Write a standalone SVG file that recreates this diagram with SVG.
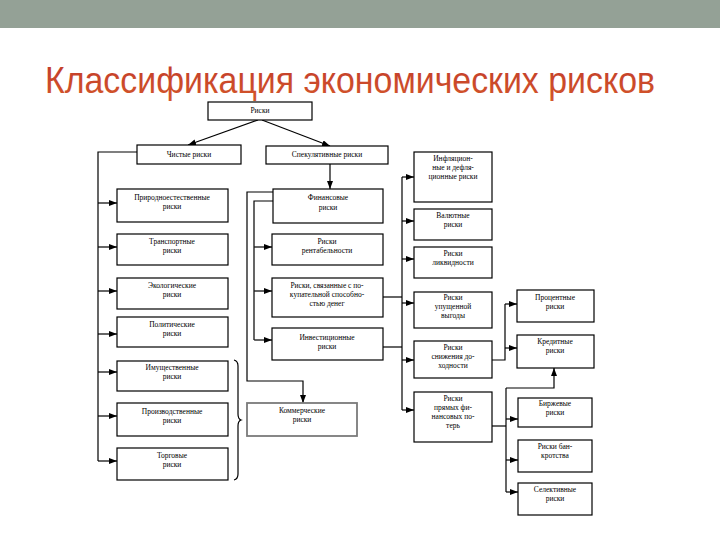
<svg xmlns="http://www.w3.org/2000/svg" width="720" height="540" viewBox="0 0 720 540">
<defs>
<linearGradient id="tg" x1="0" y1="0" x2="0" y2="1">
<stop offset="0" stop-color="#c0392b"/>
<stop offset="1" stop-color="#d4572a"/>
</linearGradient>
<marker id="ah" markerUnits="userSpaceOnUse" markerWidth="8" markerHeight="6" refX="8" refY="3" orient="auto">
<path d="M0,0 L8,3 L0,6 z" fill="#000"/>
</marker>
<style>
.bx{fill:#fff;stroke:#000;stroke-width:1.2}
.cm{fill:#fff;stroke:#7a7a7a;stroke-width:1.8}
.t{font-family:"Liberation Serif","DejaVu Serif",serif;font-size:7.5px;fill:#000;text-anchor:middle}
.ln{fill:none;stroke:#000;stroke-width:1.2}
.ar{fill:none;stroke:#000;stroke-width:1.2;marker-end:url(#ah)}
</style>
</defs>
<rect x="0" y="0" width="720" height="540" fill="#fff"/>
<rect x="0" y="0" width="720" height="28" fill="#94a196"/>
<text x="45" y="93" font-family="Liberation Sans, Arial, sans-serif" font-size="36" fill="url(#tg)" textLength="610" lengthAdjust="spacingAndGlyphs">Классификация экономических рисков</text>

<g id="connectors">
<line class="ar" x1="258" y1="120" x2="188" y2="145"/>
<line class="ar" x1="262" y1="120" x2="330" y2="146"/>
<line class="ar" x1="330" y1="164" x2="330" y2="189"/>
<polyline class="ln" points="137,152 98,152 98,461"/>
<line class="ar" x1="98" y1="203" x2="117" y2="203"/>
<line class="ar" x1="98" y1="247" x2="117" y2="247"/>
<line class="ar" x1="98" y1="291" x2="117" y2="291"/>
<line class="ar" x1="98" y1="334" x2="117" y2="334"/>
<line class="ar" x1="98" y1="372" x2="117" y2="372"/>
<line class="ar" x1="98" y1="416" x2="117" y2="416"/>
<line class="ar" x1="98" y1="461" x2="117" y2="461"/>
<polyline class="ar" points="273,192 247,192 247,381 303,381 303,403"/>
<polyline class="ln" points="273,201 254,201 254,340"/>
<line class="ar" x1="254" y1="247" x2="272" y2="247"/>
<line class="ar" x1="254" y1="291" x2="272" y2="291"/>
<line class="ar" x1="254" y1="340" x2="272" y2="340"/>
<line class="ln" x1="383" y1="297" x2="402" y2="297"/>
<line class="ln" x1="383" y1="347" x2="402" y2="347"/>
<line class="ln" x1="402" y1="177" x2="402" y2="410"/>
<line class="ar" x1="402" y1="177" x2="414" y2="177"/>
<line class="ar" x1="402" y1="221" x2="414" y2="221"/>
<line class="ar" x1="402" y1="259" x2="414" y2="259"/>
<line class="ar" x1="402" y1="303" x2="414" y2="303"/>
<line class="ar" x1="402" y1="360" x2="414" y2="360"/>
<line class="ar" x1="402" y1="410" x2="414" y2="410"/>
<polyline class="ln" points="492,360 505,360 505,304"/>
<line class="ar" x1="505" y1="304" x2="517" y2="304"/>
<line class="ar" x1="505" y1="348" x2="517" y2="348"/>
<polyline class="ln" points="492,426 506,426"/>
<line class="ln" x1="506" y1="388" x2="506" y2="492"/>
<polyline class="ar" points="506,388 554,388 554,368"/>
<line class="ar" x1="506" y1="419" x2="518" y2="419"/>
<line class="ar" x1="506" y1="460" x2="518" y2="460"/>
<line class="ar" x1="506" y1="492" x2="518" y2="492"/>
<path class="ln" d="M234,360 Q238,361 238,366 L238,414 Q238,419 241,420 Q238,421 238,426 L238,474 Q238,479 234,480"/>
</g>

<g id="n-riski"><rect class="bx" x="208" y="102" width="104" height="18"/><text class="t" x="260" y="113">Риски</text></g>
<g id="n-chistye"><rect class="bx" x="137" y="145" width="104" height="19"/><text class="t" x="189" y="157">Чистые риски</text></g>
<g id="n-spek"><rect class="bx" x="266" y="146" width="122" height="18"/><text class="t" x="327" y="157">Спекулятивные риски</text></g>

<g id="n-prirod"><rect class="bx" x="117" y="189" width="111" height="33"/><text class="t" x="172" y="200">Природноестественные</text><text class="t" x="172" y="209">риски</text></g>
<g id="n-transp"><rect class="bx" x="117" y="234" width="111" height="31"/><text class="t" x="172" y="244">Транспортные</text><text class="t" x="172" y="253">риски</text></g>
<g id="n-ekol"><rect class="bx" x="117" y="278" width="111" height="31"/><text class="t" x="172" y="288">Экологические</text><text class="t" x="172" y="297">риски</text></g>
<g id="n-polit"><rect class="bx" x="117" y="317" width="111" height="30"/><text class="t" x="172" y="327">Политические</text><text class="t" x="172" y="336">риски</text></g>
<g id="n-imush"><rect class="bx" x="117" y="361" width="111" height="30"/><text class="t" x="172" y="370">Имущественные</text><text class="t" x="172" y="379">риски</text></g>
<g id="n-proizv"><rect class="bx" x="117" y="403" width="111" height="33"/><text class="t" x="172" y="414">Производственные</text><text class="t" x="172" y="423">риски</text></g>
<g id="n-torg"><rect class="bx" x="117" y="448" width="111" height="32"/><text class="t" x="172" y="458">Торговые</text><text class="t" x="172" y="467">риски</text></g>

<g id="n-fin"><rect class="bx" x="273" y="189" width="110" height="34"/><text class="t" x="328" y="200">Финансовые</text><text class="t" x="328" y="210">риски</text></g>
<g id="n-rent"><rect class="bx" x="272" y="234" width="111" height="31"/><text class="t" x="327" y="244">Риски</text><text class="t" x="327" y="253">рентабельности</text></g>
<g id="n-pokup"><rect class="bx" x="272" y="278" width="111" height="39"/><text class="t" x="327" y="288">Риски, связанные с по-</text><text class="t" x="327" y="297">купательной способно-</text><text class="t" x="327" y="306">стью денег</text></g>
<g id="n-invest"><rect class="bx" x="272" y="328" width="111" height="32"/><text class="t" x="327" y="340">Инвестиционные</text><text class="t" x="327" y="349">риски</text></g>
<g id="n-kommer"><rect class="cm" x="247" y="403" width="110" height="33"/><text class="t" x="302" y="413">Коммерческие</text><text class="t" x="302" y="422">риски</text></g>

<g id="n-infl"><rect class="bx" x="414" y="152" width="78" height="50"/><text class="t" x="453" y="161">Инфляцион-</text><text class="t" x="453" y="170">ные и дефля-</text><text class="t" x="453" y="179">ционные риски</text></g>
<g id="n-valut"><rect class="bx" x="414" y="209" width="78" height="31"/><text class="t" x="453" y="218">Валютные</text><text class="t" x="453" y="227">риски</text></g>
<g id="n-likv"><rect class="bx" x="414" y="247" width="78" height="31"/><text class="t" x="453" y="256">Риски</text><text class="t" x="453" y="265">ликвидности</text></g>
<g id="n-upush"><rect class="bx" x="414" y="292" width="78" height="36"/><text class="t" x="453" y="300">Риски</text><text class="t" x="453" y="309">упущенной</text><text class="t" x="453" y="318">выгоды</text></g>
<g id="n-snizh"><rect class="bx" x="414" y="341" width="78" height="37"/><text class="t" x="453" y="350">Риски</text><text class="t" x="453" y="359">снижения до-</text><text class="t" x="453" y="368">ходности</text></g>
<g id="n-pryam"><rect class="bx" x="414" y="392" width="78" height="50"/><text class="t" x="453" y="401">Риски</text><text class="t" x="453" y="410">прямых фи-</text><text class="t" x="453" y="419">нансовых по-</text><text class="t" x="453" y="428">терь</text></g>

<g id="n-proc"><rect class="bx" x="517" y="290" width="77" height="32"/><text class="t" x="555" y="300">Процентные</text><text class="t" x="555" y="309">риски</text></g>
<g id="n-kred"><rect class="bx" x="517" y="335" width="77" height="33"/><text class="t" x="555" y="344">Кредитные</text><text class="t" x="555" y="353">риски</text></g>
<g id="n-birzh"><rect class="bx" x="518" y="398" width="74" height="29"/><text class="t" x="555" y="406">Биржевые</text><text class="t" x="555" y="415">риски</text></g>
<g id="n-bankr"><rect class="bx" x="518" y="440" width="74" height="32"/><text class="t" x="555" y="449">Риски бан-</text><text class="t" x="555" y="458">кротства</text></g>
<g id="n-selekt"><rect class="bx" x="518" y="483" width="74" height="32"/><text class="t" x="555" y="492">Селективные</text><text class="t" x="555" y="501">риски</text></g>
</svg>
